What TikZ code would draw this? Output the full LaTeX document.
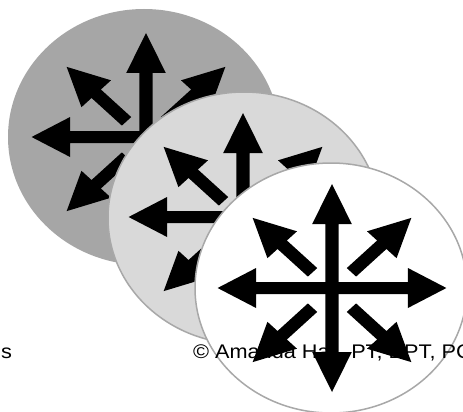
\documentclass[tikz,border=0pt]{standalone}
\usepackage{fontspec}
\setmainfont{Liberation Sans}
\definecolor{darkg}{HTML}{A6A6A6}
\definecolor{lightg}{HTML}{D9D9D9}
\definecolor{outl}{HTML}{A8A8A8}
\tikzset{
  discdark/.style={fill=darkg},
  disclight/.style={fill=lightg, draw=outl, line width=1.5pt},
  discwhite/.style={fill=white, draw=outl, line width=1.5pt},
  glyphfill/.style={fill=black},
  credittext/.style={anchor=base west, inner sep=0pt, font=\fontsize{19.7}{22}\selectfont}
}
\newcommand\arrowglyph[1]{%
  \begin{scope}[shift={#1}, xscale=1.1]
    \fill[glyphfill] (-6,-64) -- (-18,-64) -- (0,-104) -- (18,-64) -- (6,-64) -- (6,64) -- (18,64) -- (0,104) -- (-18,64) -- (-6,64) -- cycle;
    \fill[glyphfill] (-69,-6) -- (-69,-20) -- (-104,0) -- (-69,20) -- (-69,6) -- (69,6) -- (69,20) -- (104,0) -- (69,-20) -- (69,-6) -- cycle;
    \foreach \a in {45,135,225,315} {
      \fill[glyphfill, shift={(0,2)}, rotate=\a] (25,-6) -- (64,-6) -- (64,-19) -- (102,0) -- (64,19) -- (64,6) -- (25,6) -- cycle;
    }
  \end{scope}}
\begin{document}
\begin{tikzpicture}[x=1pt, y=-1pt]
  \useasboundingbox (0,0) rectangle (463,412);
  \clip (0,0) rectangle (463,412);
  \fill[white] (0,0) rectangle (463,412);
  % dark disc
  \fill[discdark] (144,137) ellipse [x radius=136, y radius=128];
  \arrowglyph{(146,137)}
  % light disc
  \filldraw[disclight] (244,218) ellipse [x radius=136, y radius=126];
  \arrowglyph{(243,217)}
  % white disc
  \filldraw[discwhite] (331,288) ellipse [x radius=136, y radius=125];
  \node[credittext] (lefttext) at (1,358) {\scalebox{1.1}[1]{s}};
  \node[credittext] (credit) at (193,358) {\scalebox{1.1}[1]{© Amanda Hall, PT, DPT, PCS}};
  \arrowglyph{(332,288)}
\end{tikzpicture}
\end{document}
